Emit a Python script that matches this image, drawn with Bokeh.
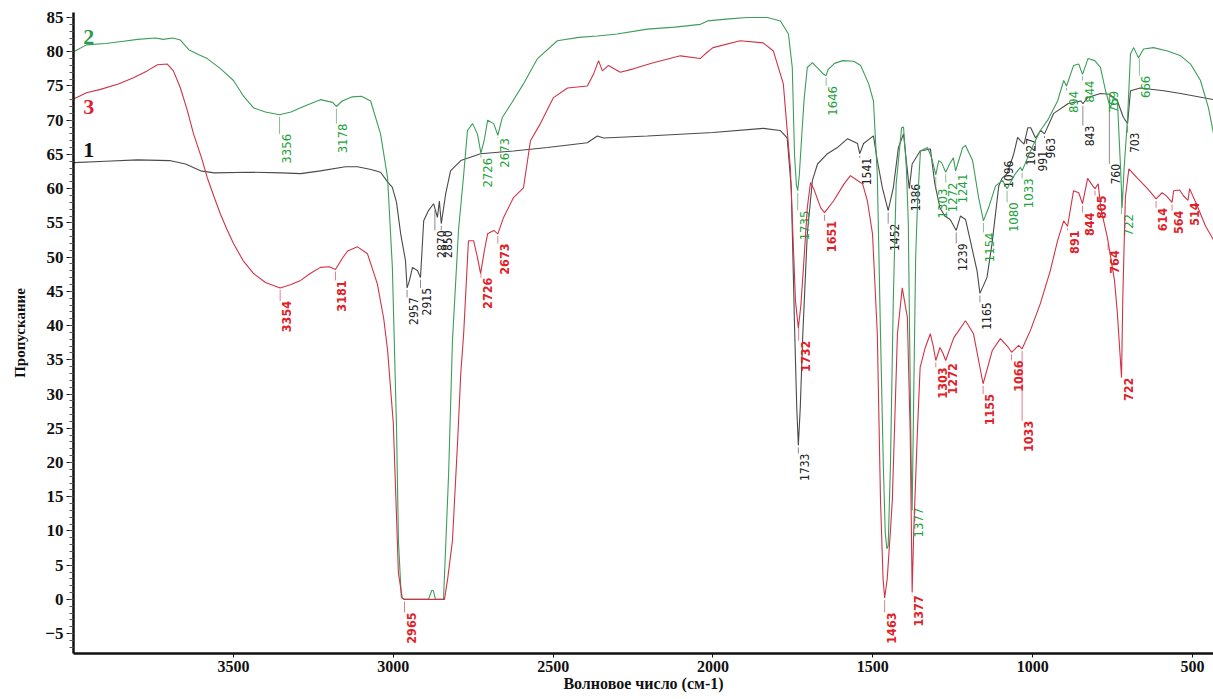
import numpy as np
from bokeh.plotting import figure
from bokeh.models import Range1d, FixedTicker, ColumnDataSource
from bokeh.core.properties import value
from bokeh.embed import file_html
from bokeh.resources import INLINE

# ---------------- data ----------------
wn_1 = [4000, 3900, 3800, 3700, 3650, 3603, 3560, 3450, 3350, 3290, 3228, 3150, 3112, 3070,
        3040, 3018, 3003, 2990, 2977, 2962, 2957, 2950, 2940, 2924, 2915, 2905, 2890, 2874,
        2862, 2856, 2850, 2836, 2821, 2789, 2727, 2624, 2518, 2393, 2362, 2342, 2205, 2000,
        1843, 1790, 1768, 1755, 1745, 1738, 1733, 1727, 1719, 1705, 1689, 1673, 1642, 1611,
        1579, 1548, 1541, 1529, 1498, 1486, 1470, 1452, 1436, 1420, 1404, 1395, 1386, 1377,
        1352, 1320, 1306, 1290, 1275, 1258, 1239, 1226, 1210, 1195, 1174, 1165, 1143, 1127,
        1106, 1096, 1080, 1059, 1047, 1038, 1027, 1015, 1006, 991, 975, 963, 934, 890, 849,
        843, 828, 788, 760, 735, 716, 703, 694, 663, 590, 537, 434]
tr_1 = [63.8, 64.0, 64.2, 64.1, 63.6, 62.6, 62.3, 62.4, 62.3, 62.2, 62.6, 63.2, 63.2, 62.8,
        62.4, 61.0, 60.2, 58.0, 53.4, 49.5, 45.5, 46.5, 48.5, 48.0, 47.0, 55.3, 56.8, 57.8,
        55.8, 58.2, 54.9, 59.3, 62.6, 64.1, 65.1, 65.5, 66.0, 66.7, 67.7, 67.4, 67.7, 68.2,
        68.8, 68.5, 67.4, 60.0, 40.0, 28.0, 22.5, 28.0, 38.8, 53.4, 61.2, 63.6, 65.1, 66.0,
        67.3, 66.6, 65.1, 66.6, 67.7, 64.1, 60.1, 56.8, 60.1, 66.0, 68.0, 64.0, 60.0, 63.6,
        65.5, 65.8, 60.7, 57.2, 56.0, 55.5, 53.9, 56.0, 55.5, 52.4, 48.0, 44.7, 47.0, 52.0,
        60.4, 61.5, 62.2, 65.1, 67.5, 67.0, 66.5, 68.9, 68.9, 67.4, 68.5, 68.0, 71.0, 72.4, 72.8,
        72.4, 73.3, 73.9, 73.8, 72.8, 70.4, 69.5, 74.3, 74.7, 74.3, 73.9, 73.0]

wn_2 = [4000, 3960, 3900, 3850, 3800, 3744, 3720, 3690, 3666, 3640, 3610, 3582, 3540, 3500,
        3470, 3437, 3400, 3356, 3320, 3290, 3250, 3228, 3190, 3178, 3160, 3130, 3100, 3071,
        3040, 3018, 3003, 2990, 2984, 2975, 2965, 2930, 2890, 2880, 2875, 2868, 2843, 2827,
        2815, 2796, 2780, 2768, 2752, 2737, 2726, 2716, 2705, 2686, 2673, 2659, 2630, 2593,
        2549, 2487, 2420, 2362, 2300, 2205, 2120, 2039, 2017, 1950, 1892, 1830, 1789, 1764,
        1752, 1745, 1739, 1735, 1730, 1722, 1715, 1705, 1689, 1670, 1654, 1646, 1640, 1620,
        1594, 1560, 1538, 1513, 1498, 1486, 1476, 1467, 1461, 1456, 1452, 1445, 1436, 1427,
        1410, 1404, 1395, 1389, 1385, 1380, 1377, 1372, 1366, 1360, 1351, 1329, 1316, 1303,
        1294, 1285, 1272, 1260, 1248, 1241, 1232, 1219, 1210, 1188, 1169, 1154, 1138, 1116,
        1094, 1080, 1054, 1038, 1033, 1016, 997, 976, 953, 922, 903, 894, 872, 856, 844, 827,
        806, 788, 772, 757, 747, 735, 725, 720, 714, 703, 694, 684, 669, 653, 622, 578, 537,
        506, 475, 450, 434]
tr_2 = [80.0, 81.0, 81.2, 81.5, 81.8, 82.0, 81.8, 82.0, 81.7, 80.3, 79.6, 79.0, 77.5, 75.8,
        73.6, 71.8, 71.2, 70.8, 71.2, 71.8, 72.6, 73.0, 72.6, 72.0, 72.8, 73.4, 73.5, 72.8,
        68.0, 61.6, 48.5, 25.0, 8.6, 0.3, 0.0, 0.0, 0.0, 1.3, 1.3, 0.0, 0.0, 18.4,
        37.8, 54.0, 62.0, 68.5, 69.5, 68.0, 65.2, 67.0, 70.0, 69.5, 67.8, 70.4, 72.5, 75.3,
        79.0, 81.6, 82.1, 82.3, 82.6, 83.3, 83.6, 84.0, 84.5, 84.8, 85.0, 85.0, 84.5, 82.6,
        77.7, 65.0, 60.5, 59.7, 62.0, 68.0, 73.0, 77.7, 78.4, 77.5, 76.7, 76.5, 77.4, 78.3,
        78.7, 78.6, 78.0, 75.3, 72.8, 62.0, 38.8, 19.3, 9.6, 7.4, 7.8, 19.3, 43.6, 60.7,
        68.9, 69.0, 63.0, 55.0, 38.8, 20.0, 13.0, 30.0, 50.0, 58.2, 65.5, 66.0, 64.5, 62.0,
        64.1, 63.8, 62.4, 63.6, 64.5, 62.6, 64.0, 66.0, 66.3, 64.1, 58.7, 55.3, 57.2, 60.4,
        61.2, 60.0, 62.2, 63.1, 62.6, 64.5, 66.5, 68.5, 70.0, 72.8, 75.8, 75.0, 78.0, 78.2,
        76.7, 79.0, 78.7, 77.7, 74.3, 71.8, 73.3, 73.0, 63.0, 57.2, 63.0, 70.4, 79.7, 80.6,
        79.1, 80.4, 80.6, 80.1, 79.4, 78.2, 75.8, 71.8, 68.0]

wn_3 = [4000, 3960, 3916, 3860, 3813, 3770, 3738, 3707, 3688, 3666, 3645, 3625, 3600, 3582,
        3560, 3541, 3520, 3500, 3470, 3437, 3400, 3354, 3320, 3290, 3260, 3228, 3200, 3181,
        3160, 3143, 3112, 3081, 3050, 3030, 3018, 3000, 2984, 2972, 2965, 2900, 2840, 2830,
        2815, 2799, 2789, 2780, 2765, 2749, 2737, 2727, 2715, 2705, 2686, 2673, 2655, 2624,
        2593, 2571, 2540, 2499, 2455, 2393, 2374, 2358, 2346, 2327, 2290, 2249, 2187, 2102,
        2040, 2024, 2000, 1915, 1843, 1811, 1780, 1758, 1742, 1733, 1725, 1717, 1705, 1695,
        1685, 1663, 1651, 1623, 1590, 1570, 1548, 1532, 1517, 1501, 1486, 1476, 1468, 1463,
        1455, 1445, 1439, 1423, 1408, 1392, 1383, 1377, 1372, 1361, 1352, 1336, 1320, 1311,
        1303, 1290, 1281, 1272, 1247, 1210, 1185, 1163, 1155, 1126, 1101, 1076, 1066, 1044,
        1033, 1007, 976, 945, 922, 903, 891, 872, 856, 844, 828, 812, 805, 795, 787, 766,
        744, 735, 722, 718, 710, 699, 674, 643, 628, 614, 595, 581, 564, 559, 540, 529, 514,
        509, 488, 459, 434]
tr_3 = [73.1, 74.0, 74.5, 75.3, 76.2, 77.2, 78.1, 78.2, 77.2, 74.7, 71.5, 68.0, 64.5, 61.6,
        58.7, 56.3, 54.0, 52.0, 49.5, 47.6, 46.3, 45.5, 46.0, 46.6, 47.6, 48.5, 48.6, 48.2,
        49.8, 50.9, 51.5, 50.5, 46.1, 41.0, 36.4, 25.7, 3.8, 0.2, 0.0, 0.0, 0.0, 3.0,
        8.6, 23.0, 33.0, 38.8, 52.4, 52.4, 50.0, 47.6, 51.0, 53.4, 53.9, 53.4, 55.8, 58.7,
        60.1, 67.0, 69.5, 73.3, 74.7, 75.0, 76.7, 78.7, 77.2, 78.0, 77.0, 77.5, 78.4, 79.4,
        79.0, 79.7, 80.6, 81.6, 81.3, 80.1, 75.3, 63.0, 43.6, 39.6, 43.0, 48.5, 57.2, 60.9,
        60.0, 57.2, 56.5, 58.2, 60.7, 61.9, 61.2, 60.7, 58.2, 53.4, 38.8, 14.5, 3.0, 0.2,
        3.0, 10.0, 14.5, 38.8, 45.5, 41.2, 24.2, 1.0, 10.0, 24.0, 33.9, 36.8, 38.8, 37.0,
        34.9, 36.8, 36.0, 34.9, 38.2, 40.7, 38.8, 33.4, 31.5, 36.4, 38.1, 36.8, 36.1, 37.1,
        36.6, 39.3, 43.2, 48.0, 52.4, 55.3, 54.5, 59.7, 59.4, 57.8, 61.5, 60.4, 60.0, 60.7, 57.2, 52.8,
        46.6, 41.8, 32.4, 44.1, 58.7, 62.9, 61.6, 60.1, 59.3, 58.5, 59.4, 58.9, 58.0, 59.7, 59.8, 59.0, 58.3,
        60.0, 57.8, 54.5, 52.5]

# peak annotations: wavenumber and the transmittance at which the label text starts
peaks_1 = [2957, 2915, 2870, 2850, 1733, 1541, 1452, 1386, 1239, 1165, 1096, 1027, 991, 963, 843, 760, 703]
top_1 = [44.1, 45.5, 53.9, 53.9, 21.3, 64.5, 54.9, 60.7, 52.0, 43.4, 64.1, 67.4, 65.5, 67.4, 69.2, 63.6, 68.2]
peaks_2 = [3356, 3178, 2726, 2673, 1735, 1646, 1377, 1303, 1272, 1241, 1154, 1080, 1033, 894, 844, 769, 722, 666]
top_2 = [68.0, 69.5, 64.5, 67.4, 56.8, 75.0, 13.4, 60.0, 60.9, 62.2, 53.6, 58.0, 61.5, 74.3, 75.8, 74.3, 56.3, 76.5]
peaks_3 = [3354, 3181, 2965, 2726, 2673, 1732, 1651, 1463, 1377, 1303, 1272, 1155, 1066, 1033, 891, 844, 805, 764, 722, 614, 564, 514]
top_3 = [43.6, 46.6, -1.9, 47.0, 52.0, 37.8, 55.3, -1.9, 0.6, 33.9, 34.5, 30.0, 34.9, 26.1, 53.9, 56.5, 59.0, 51.0, 32.4, 57.2, 56.8, 58.0]

series_names = ["1", "2", "3"]
series_name_y = [65.7, 82.2, 71.9]
series_name_x = 3953

x_ticks = [3500, 3000, 2500, 2000, 1500, 1000, 500]
y_ticks = list(range(-5, 86, 5))
x_title = "Волновое число (см-1)"
y_title = "Пропускание"

# ---------------- figure ----------------
x_lo, x_hi = 4000.5, 434.3
y_lo, y_hi = -7.9, 85.73
p = figure(width=1213, height=699, output_backend="svg", toolbar_location=None,
           x_range=Range1d(x_lo, x_hi), y_range=Range1d(y_lo, y_hi),
           min_border_left=73, min_border_right=0, min_border_top=12, min_border_bottom=46,
           background_fill_color="white", border_fill_color="white")
p.outline_line_color = None
p.grid.visible = False

p.xaxis.ticker = FixedTicker(ticks=x_ticks)
p.yaxis.ticker = FixedTicker(ticks=y_ticks, minor_ticks=list(range(-7, 86)))
for ax in (p.xaxis[0], p.yaxis[0]):
    ax.axis_line_width = 2.5
    ax.axis_line_color = "#111111"
    ax.major_tick_line_color = "#111111"
    ax.major_label_text_font = "Liberation Serif"
    ax.major_label_text_font_style = "bold"
    ax.major_label_text_font_size = "17px"
    ax.major_label_text_color = "#111111"
    ax.axis_label_text_font = "Liberation Serif"
    ax.axis_label_text_font_style = "bold"
    ax.axis_label_text_font_size = "15px"
    ax.axis_label_text_color = "#111111"
p.xaxis.major_label_text_font_size = "16px"
p.xaxis.axis_label_text_font_size = "16px"
p.xaxis.major_tick_out = 4
p.xaxis.major_tick_in = 0
p.xaxis.minor_tick_line_color = None
p.xaxis.major_label_standoff = 3
p.xaxis.axis_label_standoff = 0
p.xaxis.axis_label = x_title
p.yaxis.major_tick_out = 7
p.yaxis.major_tick_in = 0
p.yaxis.minor_tick_out = 4
p.yaxis.minor_tick_in = 0
p.yaxis.minor_tick_line_color = "#555555"
p.yaxis.major_label_standoff = 3
p.yaxis.axis_label_standoff = 14
p.yaxis.axis_label = y_title

curve_colors = ["#4a4a4a", "#3d9d5a", "#cf3346"]
label_colors = ["#222222", "#1fa33c", "#e01f2a"]
label_sizes = ["12px", "13px", "12.5px"]
label_styles = ["normal", "normal", "bold"]

series = [(wn_1, tr_1, peaks_1, top_1), (wn_2, tr_2, peaks_2, top_2), (wn_3, tr_3, peaks_3, top_3)]
for i, (wn, tr, pk, tp) in enumerate(series):
    p.line(wn, tr, line_color=curve_colors[i], line_width=1.1)
    xs = np.array(wn[::-1], dtype=float)
    ys = np.array(tr[::-1], dtype=float)
    cy = np.interp(np.array(pk, dtype=float), xs, ys) - 0.3
    x0, y0, y1 = [], [], []
    for k in range(len(pk)):
        if cy[k] > tp[k]:
            x0.append(pk[k]); y0.append(cy[k]); y1.append(tp[k])
    p.segment(x0=x0, y0=y0, x1=x0, y1=y1, line_color=curve_colors[i], line_width=0.8, line_alpha=0.8)
    src = ColumnDataSource(dict(x=pk, y=tp, t=[str(v) for v in pk]))
    p.text(x="x", y="y", text="t", source=src, angle=np.pi / 2, x_offset=2,
           text_align="right", text_baseline="top", text_color=label_colors[i],
           text_font=value("DejaVu Sans Condensed"), text_font_size=label_sizes[i],
           text_font_style=label_styles[i])

name_colors = ["#111111", "#2e9a4e", "#dd2233"]
p.text(x=[series_name_x] * 3, y=series_name_y, text=series_names, text_color=name_colors,
       text_font=value("Liberation Serif"), text_font_style="bold", text_font_size="22px",
       text_align="center", text_baseline="middle")

open("out.html", "w").write(file_html(p, INLINE))
